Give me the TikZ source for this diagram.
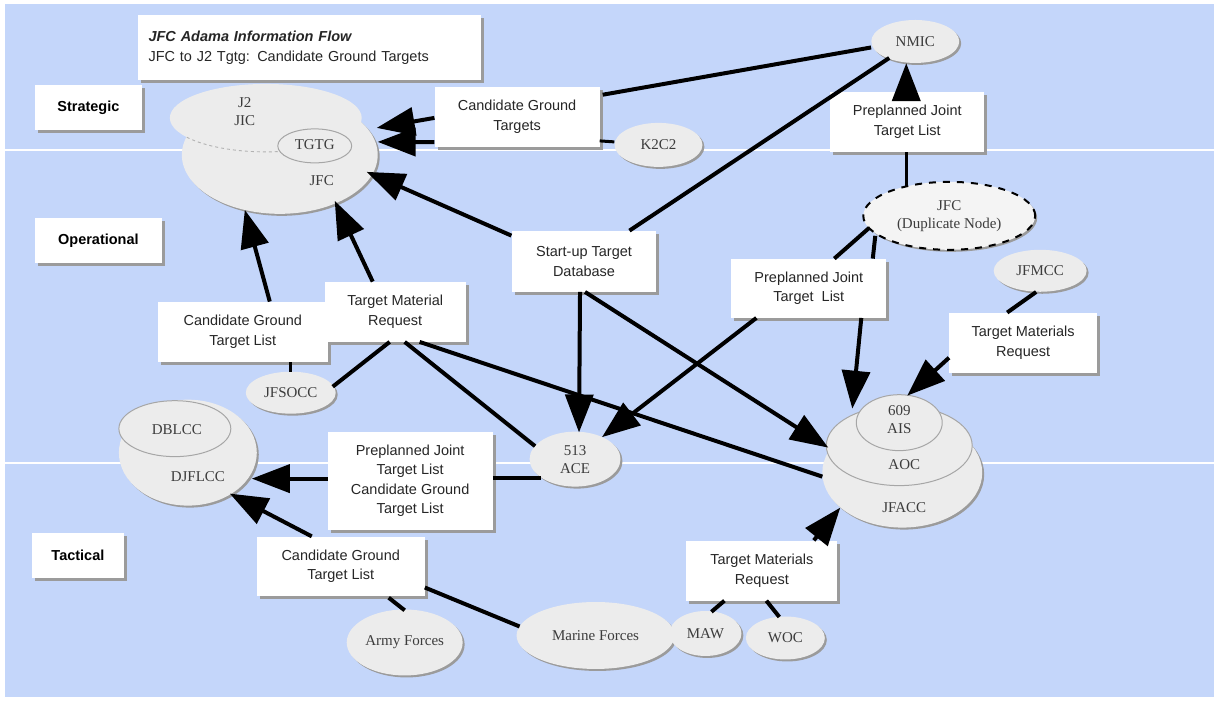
\documentclass[tikz,border=0pt]{standalone}
\usepackage{fontspec}
\setmainfont{Liberation Serif}
\newfontfamily\arialf{Liberation Sans}
\usetikzlibrary{shapes.geometric,arrows.meta,shadows,calc}
\definecolor{bgblue}{RGB}{196,214,250}
\definecolor{ellfill}{RGB}{236,236,236}
\definecolor{shadegray}{RGB}{155,155,155}
\definecolor{txtgray}{RGB}{60,60,60}
\begin{document}
\begin{tikzpicture}[x=1pt,y=-1pt,
  box/.style={rectangle, fill=white, inner sep=2pt, align=center, text=black!85,
    font=\arialf\fontsize{14.5}{19.5}\selectfont,
    drop shadow={shadow xshift=3pt,shadow yshift=-3pt,fill=shadegray,opacity=1}},
  lbl/.style={box, text=black, font=\arialf\bfseries\fontsize{14.5}{18}\selectfont},
  ell/.style={ellipse, fill=ellfill, inner sep=0pt, align=center, text=txtgray,
    font=\fontsize{15}{18}\selectfont,
    drop shadow={shadow xshift=2pt,shadow yshift=-2pt,fill=shadegray,opacity=1}},
  etxt/.style={inner sep=0pt, align=center, text=txtgray, font=\fontsize{15}{18}\selectfont},
  ln/.style={line width=4pt, black},
  thinln/.style={line width=3pt, black},
  arr/.style={ln, -{Triangle[length=38pt,width=28pt]}},
]
% background
\fill[white] (0,0) rectangle (1215,702);
\fill[bgblue] (5,4) rectangle (1215,698);
\draw[white, line width=2pt] (5,150) -- (1215,150);
\draw[white, line width=2pt] (5,463) -- (1215,463);
\useasboundingbox (0,0) rectangle (1215,702);

% title and level labels
\node[box, anchor=north west, minimum width=343pt, minimum height=65pt, text width=322pt, align=left] (title) at (138,15)
  {{\bfseries\itshape JFC Adama Information Flow}\\JFC to J2 Tgtg: Candidate Ground Targets};
\node[lbl, minimum width=107pt, minimum height=45pt] (strat) at (88.5,107.5) {Strategic};
\node[lbl, minimum width=127pt, minimum height=45pt] (oper) at (98.5,240.5) {Operational};
\node[lbl, minimum width=92pt, minimum height=45pt] (tact) at (78,555.5) {Tactical};

% JFC cluster
\node[ell, minimum width=196pt, minimum height=118pt] (jfc) at (280,155) {};
\node[ellipse, fill=ellfill, minimum width=192pt, minimum height=68pt, inner sep=0pt] (j2) at (266,118) {};
\begin{scope}
  \clip (186,118) rectangle (300,160);
  \draw[gray!60, dashed, line width=0.9pt] (266,118) ellipse [x radius=96, y radius=34];
\end{scope}
\node[ellipse, fill=ellfill, draw=gray!70, line width=1pt, minimum width=74pt, minimum height=34pt, inner sep=0pt] (tgtg) at (315,146) {};
\node[etxt] (j2t) at (245,112) {J2\\JIC};
\node[etxt] (tgtgt) at (315,145) {TGTG};
\node[etxt] (jfct) at (322,181) {JFC};

% DJFLCC cluster
\node[ell, minimum width=138pt, minimum height=106pt] (djf) at (188,453) {};
\node[ellipse, fill=ellfill, draw=gray!70, line width=1pt, minimum width=112pt, minimum height=56pt, inner sep=0pt] (dblcc) at (175,429) {};
\node[etxt] (dblcct) at (177,430) {DBLCC};
\node[etxt] (djft) at (198,477) {DJFLCC};

% AOC cluster
\node[ell, minimum width=160pt, minimum height=110pt] (jfacc) at (903,473) {};
\node[ellipse, fill=ellfill, draw=gray!70, line width=1pt, minimum width=146pt, minimum height=80pt, inner sep=0pt] (aoc) at (900,446) {};
\node[ellipse, fill=ellfill, draw=gray!70, line width=1pt, minimum width=86pt, minimum height=56pt, inner sep=0pt] (ais) at (900,423) {};
\node[etxt] (aist) at (900,420) {609\\AIS};
\node[etxt] (aoct) at (905,465) {AOC};
\node[etxt] (jfacct) at (905,508) {JFACC};

% boxes
\node[box, minimum width=165pt, minimum height=60pt] (cgt) at (517.5,117) {Candidate Ground\\Targets};
\node[box, minimum width=154pt, minimum height=60pt] (pjtl1) at (908,122) {Preplanned Joint\\Target List};
\node[box, minimum width=145pt, minimum height=61pt] (startup) at (584.5,261.5) {Start-up Target\\Database};
\node[box, minimum width=155pt, minimum height=59pt] (pjtl2) at (809.5,288.5) {Preplanned Joint\\Target~~List};
\node[box, minimum width=148pt, minimum height=60pt] (tmrR) at (1024,343) {Target Materials\\Request};
\node[box, minimum width=170pt, minimum height=60pt] (cgtl1) at (243,332) {Candidate Ground\\Target List};
\node[box, minimum width=141pt, minimum height=60pt] (tmrL) at (395.5,312) {Target Material\\Request};
\node[box, minimum width=165pt, minimum height=98pt] (pc) at (410.5,481) {Preplanned Joint\\Target List\\Candidate Ground\\Target List};
\node[box, minimum width=168pt, minimum height=59pt] (cgtl2) at (341,566.5) {Candidate Ground\\Target List};
\node[box, minimum width=151pt, minimum height=60pt] (tmrB) at (762.5,571) {Target Materials\\Request};

% single ellipses
\node[ell, minimum width=88pt, minimum height=43pt] (nmic) at (916,41.5) {NMIC};
\node[ell, minimum width=88pt, minimum height=44pt] (k2c2) at (659,145) {K2C2};
\node[ell, fill=ellfill!60!white, draw=black, line width=2pt, dash pattern=on 7pt off 7pt, minimum width=172pt, minimum height=68pt] (dup) at (950,216) {JFC\\(Duplicate Node)};
\node[ell, minimum width=93pt, minimum height=42pt] (jfmcc) at (1041,271) {JFMCC};
\node[ell, minimum width=90pt, minimum height=42pt] (jfsocc) at (291,393) {JFSOCC};
\node[ell, minimum width=91pt, minimum height=55pt] (ace) at (575.5,459.5) {513\\ACE};
\node[ell, minimum width=116pt, minimum height=66pt] (army) at (405,643) {Army Forces};
\node[ell, minimum width=158pt, minimum height=67pt] (marine) at (596,636) {Marine Forces};
\node[ell, minimum width=72pt, minimum height=45pt] (maw) at (706,634) {MAW};
\node[ell, minimum width=79pt, minimum height=43pt] (woc) at (786,638.5) {WOC};

% connectors
\draw[arr] ($(cgt.west)+(0,1)$) -- ($(jfc)+(97,-27)$);
\draw[arr] ($(cgt.south west)+(0,-5)$) -- ($(jfc)+(98,-13)$);
\draw[ln] ($(cgt.north east)+(3,8)$) -- ($(nmic.west)+(0,6)$);
\draw[thinln] ($(cgt.east)+(0,24)$) -- ($(k2c2.west)+(0,-3)$);
\draw[ln] ($(nmic)+(-26,16.5)$) -- ($(startup.north)+(45.5,0)$);
\draw[arr] ($(pjtl1.north)+(-1,0)$) -- ($(nmic.south)+(-9,0)$);
\draw[thinln] ($(pjtl1.south)+(-1,0)$) -- ($(dup)+(-43,-30)$);
\draw[arr] ($(startup.north west)+(0,5)$) -- ($(jfc)+(87,17)$);
\draw[arr] ($(cgtl1.north)+(27,0)$) -- ($(jfc)+(-35,55)$);
\draw[arr] ($(tmrL.north)+(-22.5,0)$) -- ($(jfc)+(55,46)$);
\draw[thinln] (jfsocc.north) -- ($(jfsocc.north)+(0,-10)$);
\draw[ln] ($(jfsocc)+(42,-6)$) -- ($(tmrL.south)+(-5.5,0)$);
\draw[ln] ($(tmrL.south)+(9.5,0)$) -- ($(ace)+(-40,-13)$);
\draw[ln] ($(tmrL.south)+(24.5,0)$) -- ($(jfacc)+(-80,4)$);
\draw[arr] ($(startup.south)+(-4,0)$) -- ($(ace.north)+(4,1)$);
\draw[arr] ($(startup.south)+(1,0)$) -- ($(jfacc)+(-74,-25)$);
\draw[ln] ($(dup)+(-80,12)$) -- ($(pjtl2.north)+(25.5,0)$);
\draw[ln] ($(dup)+(-74,20)$) -- ($(pjtl2.north)+(64,0)$);
\draw[arr] ($(pjtl2.south)+(52.5,0)$) -- ($(aoc)+(-47,-37)$);
\draw[arr] ($(pjtl2.south)+(-52.5,0)$) -- ($(ace)+(27,-22)$);
\draw[ln] ($(jfmcc.south)+(-4,0)$) -- ($(tmrR.north)+(-16,0)$);
\draw[arr] ($(tmrR.west)+(0,15)$) -- ($(ais)+(8,-27)$);
\draw[ln] ($(pc.east)+(0,-3)$) -- ($(ace)+(-34,18.5)$);
\draw[arr] ($(pc.west)+(0,-2)$) -- ($(djf)+(64,26)$);
\draw[arr] ($(cgtl2.north)+(-29,0)$) -- ($(djf)+(42,41)$);
\draw[ln] ($(cgtl2.south)+(48,2)$) -- ($(army.north)+(0,1)$);
\draw[ln] ($(cgtl2.east)+(0,21.5)$) -- ($(marine)+(-76,-9)$);
\draw[arr] ($(tmrB.north)+(52,0)$) -- ($(jfacc)+(-62,35)$);
\draw[ln] ($(tmrB.south)+(-37.5,0)$) -- ($(maw.north)+(6,1)$);
\draw[ln] ($(tmrB.south)+(4.5,0)$) -- ($(woc)+(-6,-21)$);
\end{tikzpicture}
\end{document}
